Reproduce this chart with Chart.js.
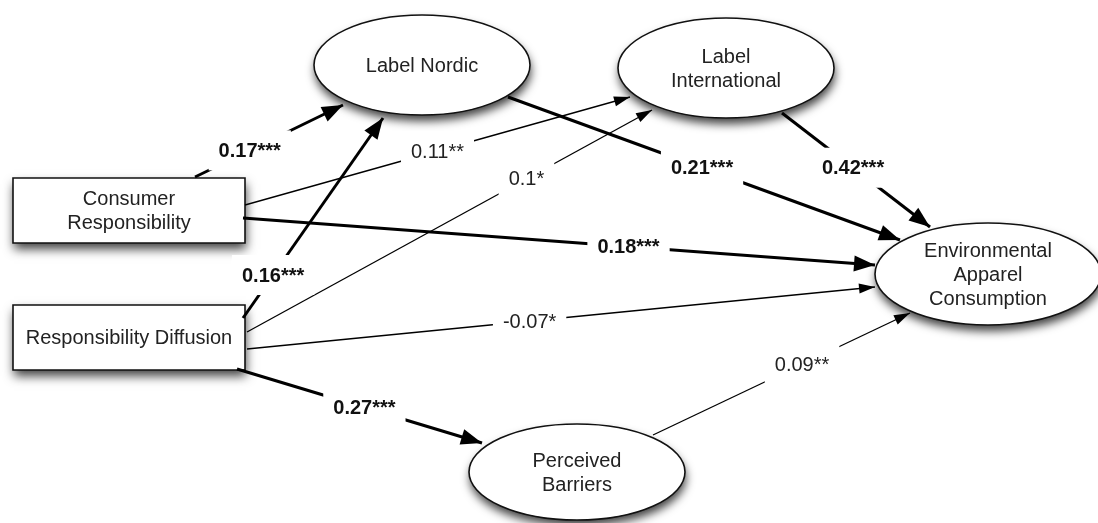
<!DOCTYPE html>
<html>
<head>
<meta charset="utf-8">
<script src="https://cdn.jsdelivr.net/npm/chart.js@4.4.1/dist/chart.umd.min.js"></script>
<style>
  html, body { margin: 0; padding: 0; background: #fff; }
  #wrap { width: 1098px; height: 523px; position: relative; }
</style>
</head>
<body>
<div id="wrap"><canvas id="diagram"></canvas></div>
<script>
// constructs in the path model
const nodeNames = [
  'Label Nordic',
  'Label\nInternational',
  'Consumer\nResponsibility',
  'Responsibility Diffusion',
  'Environmental\nApparel\nConsumption',
  'Perceived\nBarriers'
]
const nodeShapes = ['ellipse', 'ellipse', 'box', 'box', 'ellipse', 'ellipse']

// paths: from -> to, standardized coefficient and significance stars
const edgeFrom = [2, 2, 3, 3, 0, 1, 2, 3, 3, 5]
const edgeTo = [0, 1, 0, 1, 4, 4, 4, 4, 5, 4]
const coefficients = [0.17, 0.11, 0.16, 0.1, 0.21, 0.42, 0.18, -0.07, 0.27, 0.09]
const stars = ['***', '**', '***', '*', '***', '***', '***', '*', '***', '**']

// diagram layout, in chart units (x 0..1098, y 0..523 from the top)
const nodeCx = [422, 726, 129, 129, 988, 577]
const nodeCy = [65, 68, 210.5, 337.5, 274, 472]
const nodeHalfW = [108, 108, 116, 116, 113, 108]
const nodeHalfH = [50, 50, 32.5, 32.5, 51, 48]

const edgeX1 = [195, 245, 243, 247, 508, 782, 243, 247, 237, 653]
const edgeY1 = [177, 205, 318, 332, 97, 113, 218, 349, 369, 435]
const edgeX2 = [343, 630, 383, 652, 900, 930, 875, 875, 482, 910]
const edgeY2 = [105, 97, 118, 110, 240, 227, 265, 287, 443, 313]
const labelAt = [0.37, 0.50, 0.215, 0.69, 0.495, 0.48, 0.61, 0.45, 0.52, 0.58]

const FONT = '"Liberation Sans", Arial, Helvetica, sans-serif'

function isStrong(i) {
  return stars[i] === '***'
}

const datasets = edgeFrom.map((from, i) => ({
  label: nodeNames[from].replace(/\n/g, ' ') + ' -> ' + nodeNames[edgeTo[i]].replace(/\n/g, ' '),
  data: [{ x: edgeX1[i], y: edgeY1[i] }, { x: edgeX2[i], y: edgeY2[i] }],
  showLine: true,
  borderColor: '#000',
  borderWidth: isStrong(i) ? 3 : 1.3,
  borderCapStyle: 'butt',
  pointRadius: 0,
  pointHoverRadius: 0
}))

const diagramPlugin = {
  id: 'pathDiagram',

  beforeDatasetsDraw(chart) {
    const ctx = chart.ctx
    const xs = chart.scales.x
    const ys = chart.scales.y

    for (let i = 0; i < nodeNames.length; i++) {
      const cx = xs.getPixelForValue(nodeCx[i])
      const cy = ys.getPixelForValue(nodeCy[i])
      const hw = xs.getPixelForValue(nodeCx[i] + nodeHalfW[i]) - cx
      const rh = Math.abs(ys.getPixelForValue(nodeCy[i] + nodeHalfH[i]) - cy)

      ctx.save()
      ctx.beginPath()
      if (nodeShapes[i] === 'ellipse') {
        ctx.ellipse(cx, cy, hw, rh, 0, 0, Math.PI * 2)
      } else {
        ctx.rect(cx - hw, cy - rh, hw * 2, rh * 2)
      }
      ctx.shadowColor = 'rgba(0,0,0,0.75)'
      ctx.shadowBlur = 10
      ctx.shadowOffsetX = 1
      ctx.shadowOffsetY = 6
      ctx.fillStyle = '#fff'
      ctx.fill()
      ctx.shadowColor = 'transparent'
      ctx.lineWidth = 1.6
      ctx.strokeStyle = '#111'
      ctx.stroke()

      ctx.fillStyle = '#222'
      ctx.font = '20px ' + FONT
      ctx.textAlign = 'center'
      ctx.textBaseline = 'middle'
      const lines = nodeNames[i].split('\n')
      lines.forEach((line, k) => {
        ctx.fillText(line, cx, cy + (k - (lines.length - 1) / 2) * 24 + 1)
      })
      ctx.restore()
    }
  },

  afterDatasetsDraw(chart) {
    const ctx = chart.ctx

    for (let i = 0; i < datasets.length; i++) {
      const pts = chart.getDatasetMeta(i).data
      const x1 = pts[0].x, y1 = pts[0].y
      const x2 = pts[1].x, y2 = pts[1].y
      const ang = Math.atan2(y2 - y1, x2 - x1)
      const len = isStrong(i) ? 21 : 16
      const half = isStrong(i) ? 8 : 5

      // arrowhead at the target end
      const bx = x2 - len * Math.cos(ang)
      const by = y2 - len * Math.sin(ang)
      ctx.save()
      ctx.fillStyle = '#000'
      ctx.beginPath()
      ctx.moveTo(x2, y2)
      ctx.lineTo(bx - half * Math.sin(ang), by + half * Math.cos(ang))
      ctx.lineTo(bx + half * Math.sin(ang), by - half * Math.cos(ang))
      ctx.closePath()
      ctx.fill()

      // coefficient label sitting in a gap of the path
      const t = labelAt[i]
      const lx = x1 + (x2 - x1) * t
      const ly = y1 + (y2 - y1) * t
      const text = String(coefficients[i]) + stars[i]
      ctx.font = (isStrong(i) ? 'bold ' : '') + '20px ' + FONT
      const w = ctx.measureText(text).width
      ctx.fillStyle = '#fff'
      ctx.fillRect(lx - w / 2 - 10, ly - 20, w + 20, 40)
      ctx.fillStyle = isStrong(i) ? '#111' : '#222'
      ctx.textAlign = 'center'
      ctx.textBaseline = 'middle'
      ctx.fillText(text, lx, ly + 1)
      ctx.restore()
    }
  }
}

new Chart(document.getElementById('diagram'), {
  type: 'scatter',
  data: { datasets },
  options: {
    responsive: true,
    maintainAspectRatio: false,
    animation: false,
    layout: { padding: 0 },
    plugins: {
      legend: { display: false },
      tooltip: { enabled: false },
      title: { display: false }
    },
    scales: {
      x: { type: 'linear', min: 0, max: 1098, display: false },
      y: { type: 'linear', min: 0, max: 523, reverse: true, display: false }
    }
  },
  plugins: [diagramPlugin]
})
</script>
</body>
</html>
